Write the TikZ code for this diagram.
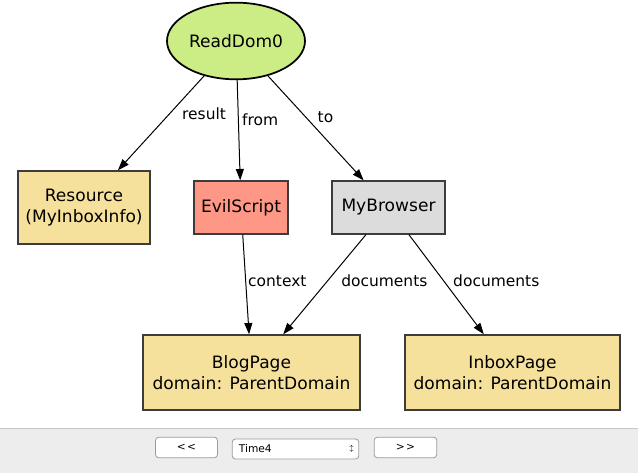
\documentclass[tikz,border=0pt]{standalone}
\usepackage{fontspec}
\setmainfont{DejaVu Sans}
\usetikzlibrary{arrows.meta,shapes.geometric}
\definecolor{rdgreen}{HTML}{CCEC86}
\definecolor{rdsand}{HTML}{F6E19C}
\definecolor{rdsalmon}{HTML}{FF9786}
\definecolor{rdgrey}{HTML}{DCDCDC}
\definecolor{rdborder}{HTML}{3C3C3C}
\definecolor{rdbar}{HTML}{EDEDED}
\definecolor{rdbarline}{HTML}{C6C6C6}
\definecolor{rdbutton}{HTML}{9A9A9A}
\tikzset{
  atomnode/.style={draw=rdborder,line width=1.3pt,inner sep=0pt,align=center,
    font=\fontsize{12.8}{15.5}\selectfont},
  prednode/.style={atomnode,ellipse,fill=rdgreen,draw=black,minimum width=103.5pt,minimum height=57.5pt},
  relarrow/.style={draw=black,line width=0.75pt,-{Triangle[length=8.5pt,width=6pt]}},
  rellabel/.style={font=\fontsize{11.6}{13}\selectfont,inner sep=0pt,anchor=west},
  barbutton/.style={draw=rdbutton,fill=white,rounded corners=2.5pt,line width=0.6pt,
    font=\fontsize{8}{9}\selectfont},
}

\begin{document}
\begin{tikzpicture}[x=0.75pt,y=-0.75pt]
  \path[use as bounding box,fill=white] (0,0) rectangle (638,473);
  % toolbar
  \fill[rdbar] (0,428.5) rectangle (638,473);
  \draw[rdbarline,line width=1pt] (0,428.5) -- (638,428.5);
  \node[barbutton,minimum width=46.5pt,minimum height=15.5pt] (prev) at (186.5,447.5) {<\kern1pt<};
  \node[barbutton,minimum width=95pt,minimum height=15pt,text width=85pt,align=left] (time) at (295.5,449) {Time4};
  \node[font=\fontsize{5}{5}\selectfont,inner sep=0pt] (spin) at (351.5,449) {$\updownarrow$};
  \node[barbutton,minimum width=47pt,minimum height=15.5pt] (next) at (405.5,447.5) {>\kern1pt>};
  % graph
  \node[prednode] (read) at (236,41) {ReadDom0};
  \node[atomnode,fill=rdsand,minimum width=99pt,minimum height=54.5pt] (res) at (84,207.5) {Resource\\(MyInboxInfo)};
  \node[atomnode,fill=rdsalmon,minimum width=70.5pt,minimum height=39.5pt] (evil) at (241,207.5) {EvilScript};
  \node[atomnode,fill=rdgrey,minimum width=85pt,minimum height=39.5pt] (brow) at (388.5,207.5) {MyBrowser};
  \node[atomnode,fill=rdsand,minimum width=163pt,minimum height=56pt] (blog) at (251.5,372.5) {BlogPage\\domain: ParentDomain};
  \node[atomnode,fill=rdsand,minimum width=161.5pt,minimum height=56pt] (inbox) at (512.5,372.5) {InboxPage\\domain: ParentDomain};
  \foreach \i/\j/\lbl/\p/\dx in {read/res/result/0.4/9pt,read/evil/from/0.4/2.5pt,read/brow/to/0.4/8.25pt,
      evil/blog/context/0.465/1.5pt,brow/blog/documents/0.465/10pt,brow/inbox/documents/0.46/7pt}
    {\draw[relarrow] (\i) -- node[rellabel,pos=\p,xshift=\dx] {\lbl} (\j);}
\end{tikzpicture}
\end{document}
